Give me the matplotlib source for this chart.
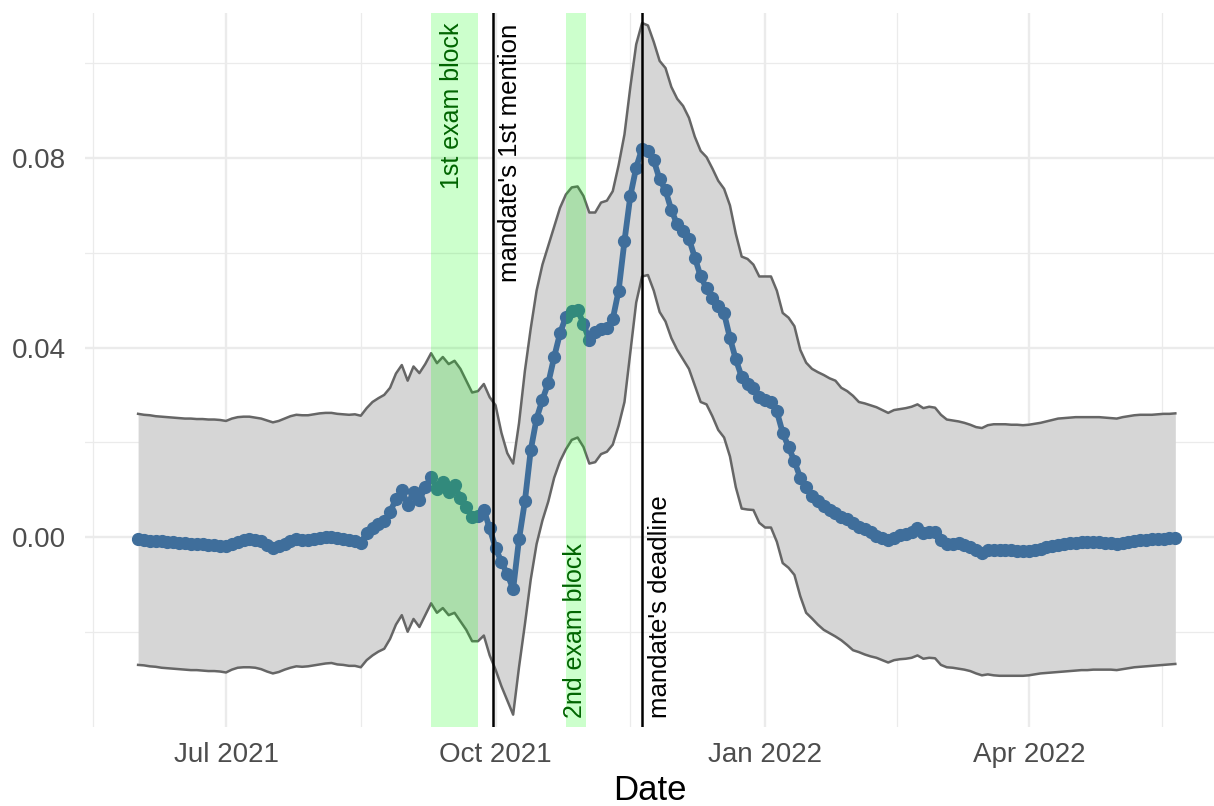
import numpy as np
import matplotlib
matplotlib.use("Agg")
import matplotlib.pyplot as plt
import matplotlib.dates as mdates

plt.rcParams['font.family'] = ['Liberation Sans', 'DejaVu Sans']

# one value every two days from 1 Jun 2021, in thousandths
start = np.datetime64('2021-06-01')
center_k = [
    -0.5, -0.6, -0.8, -0.9, -0.9, -1.0, -1.1, -1.2, -1.3, -1.4,
    -1.4, -1.5, -1.6, -1.6, -1.8, -2.0, -1.5, -1.0, -0.7, -0.5,
    -0.6, -0.9, -1.6, -2.3, -2.0, -1.4, -0.9, -0.5, -0.6, -0.6,
    -0.4, -0.2, 0.0, 0.0, -0.3, -0.5, -0.6, -0.8, -1.2, 0.8,
    2.0, 2.8, 3.4, 5.3, 8.0, 9.9, 6.8, 9.5, 7.8, 10.5,
    12.7, 10.2, 11.6, 9.5, 11.0, 8.2, 6.4, 4.2, 4.5, 5.8,
    1.8, -2.3, -5.3, -7.8, -11.0, -0.5, 7.5, 18.3, 25.0, 29.0,
    32.5, 38.0, 43.0, 46.5, 47.8, 48.0, 45.0, 41.5, 43.2, 44.0,
    44.2, 46.0, 52.0, 62.5, 72.0, 78.0, 82.0, 81.5, 79.5, 75.5,
    73.2, 69.0, 66.0, 64.5, 63.0, 59.0, 55.0, 52.5, 50.5, 48.8,
    47.2, 42.0, 37.5, 33.8, 32.3, 31.5, 29.5, 29.0, 28.5, 26.5,
    22.0, 19.0, 16.0, 12.5, 10.5, 8.6, 7.5, 6.6, 5.8, 5.0,
    4.2, 3.8, 3.0, 2.2, 1.7, 1.0, 0.3, -0.2, -0.6, -0.2,
    0.4, 0.6, 1.0, 1.9, 0.8, 1.1, 1.0, -0.6, -1.5, -1.4,
    -1.3, -1.7, -2.2, -2.8, -3.4, -2.7, -2.7, -2.7, -2.7, -2.8,
    -2.9, -3.0, -3.0, -2.8, -2.5, -2.2, -1.9, -1.6, -1.4, -1.3,
    -1.2, -1.1, -1.1, -1.1, -1.1, -1.2, -1.3, -1.5, -1.2, -1.0,
    -0.8, -0.7, -0.6, -0.5, -0.4, -0.4, -0.3, -0.2,
]
upper_k = [
    26.0, 25.8, 25.7, 25.5, 25.4, 25.3, 25.2, 25.1, 25.0, 25.0,
    24.9, 24.9, 24.8, 24.8, 24.7, 24.5, 25.0, 25.3, 25.4, 25.4,
    25.2, 25.0, 24.6, 24.2, 24.5, 25.0, 25.5, 25.8, 25.7, 25.7,
    25.9, 26.1, 26.2, 26.2, 26.0, 25.9, 25.8, 25.9, 25.6, 27.2,
    28.5, 29.3, 30.0, 31.5, 34.5, 36.3, 33.0, 36.0, 34.6, 36.5,
    38.8, 36.7, 38.0, 36.5, 37.2, 35.5, 33.0, 30.5, 30.8, 32.3,
    29.5, 27.8, 22.0, 17.7, 15.5, 24.0, 35.0, 44.0, 52.0, 57.5,
    61.5, 65.5, 69.5, 72.3, 73.8, 74.0, 72.0, 68.5, 68.5, 70.6,
    71.0, 73.0, 78.5, 85.0, 95.0, 104.0, 108.5, 108.0, 104.5, 100.5,
    99.0, 95.0, 92.5, 91.0, 88.5, 84.5, 81.5, 80.2, 77.8, 75.2,
    73.5, 70.0, 64.0, 59.2, 58.7, 57.5, 55.0, 55.0, 55.0, 52.0,
    47.3, 46.3, 44.5, 39.5, 36.8, 35.5, 34.8, 34.2, 33.5, 33.0,
    31.5, 30.8, 29.8, 28.5, 28.2, 27.8, 27.4, 26.8, 26.2, 26.8,
    27.0, 27.2, 27.5, 28.0, 27.2, 27.5, 27.3, 25.8, 24.8, 24.6,
    24.4, 24.1, 23.7, 23.2, 23.0, 23.6, 23.8, 23.8, 23.8, 23.7,
    23.7, 23.6, 23.7, 23.9, 24.1, 24.4, 24.7, 25.0, 25.1, 25.2,
    25.3, 25.3, 25.3, 25.3, 25.3, 25.2, 25.1, 25.0, 25.3, 25.5,
    25.7, 25.8, 25.8, 25.8, 25.9, 26.0, 26.0, 26.1,
]
lower_k = [
    -27.0, -27.1, -27.3, -27.4, -27.6, -27.7, -27.8, -27.9, -28.0, -28.1,
    -28.1, -28.2, -28.3, -28.3, -28.4, -28.6, -28.0, -27.6, -27.5, -27.5,
    -27.6, -27.9, -28.4, -28.8, -28.5, -28.0, -27.6, -27.3, -27.4, -27.3,
    -27.1, -26.9, -26.7, -26.6, -26.9, -27.0, -27.2, -27.2, -27.5, -26.0,
    -25.0, -24.2, -23.6, -21.5, -18.5, -16.5, -20.0, -17.3, -19.0, -16.5,
    -14.0, -16.0, -15.0, -16.5, -16.0, -17.8, -19.6, -22.0, -22.0, -20.8,
    -25.0, -28.0, -31.5, -34.5, -37.5, -27.5, -18.5, -9.0, -1.5, 3.5,
    7.5, 12.5, 16.0, 18.5, 20.5, 21.0, 19.0, 15.5, 15.8, 17.5,
    18.0, 19.5, 23.5, 28.5, 39.0, 49.5, 55.0, 55.3, 52.0, 47.5,
    45.5, 42.0, 39.5, 37.5, 35.5, 32.0, 28.5, 28.0, 25.5, 22.6,
    21.0, 17.0, 10.5, 6.0, 5.8, 5.7, 3.0, 2.0, 2.0, -1.0,
    -5.5, -6.5, -8.0, -12.5, -16.0, -17.2, -18.5, -19.6, -20.3, -21.0,
    -21.8, -22.8, -23.9, -24.3, -24.8, -25.2, -25.5, -26.0, -26.5, -26.0,
    -25.8, -25.7, -25.5, -25.0, -25.7, -25.5, -25.6, -27.0, -27.5, -27.6,
    -27.8, -28.0, -28.3, -28.8, -29.2, -29.0, -29.2, -29.3, -29.3, -29.3,
    -29.3, -29.3, -29.2, -29.0, -28.8, -28.7, -28.6, -28.5, -28.4, -28.3,
    -28.2, -28.1, -28.1, -28.0, -28.0, -28.0, -28.0, -28.1, -27.9, -27.7,
    -27.5, -27.4, -27.3, -27.2, -27.1, -27.0, -26.9, -26.8,
]

exam_starts = ['2021-09-09', '2021-10-25']
exam_ends = ['2021-09-25', '2021-11-01']
exam_labels = ['1st exam block', '2nd exam block']
mandate_dates = ['2021-09-30', '2021-11-20']
mandate_labels = ["mandate's 1st mention", "mandate's deadline"]

dates = start + np.arange(len(center_k)) * 2
center = np.array(center_k) / 1000
upper = np.array(upper_k) / 1000
lower = np.array(lower_k) / 1000

fig = plt.figure(figsize=(12.14, 8.06), dpi=100)
ax = fig.add_axes([85 / 1214, 1 - 727 / 806, 1 - 85 / 1214, (727 - 13) / 806])

ax.fill_between(dates, lower, upper, color='#D6D6D6', lw=0, zorder=2)
ax.plot(dates, upper, color='#666666', lw=1.8, zorder=3)
ax.plot(dates, lower, color='#666666', lw=1.8, zorder=3)
ax.plot(dates, center, color='#3F6E9B', lw=4.2, marker='o', ms=8.5,
        zorder=4)

for s, e in zip(exam_starts, exam_ends):
    ax.axvspan(np.datetime64(s), np.datetime64(e), color='#00FF00',
               alpha=0.2, lw=0, zorder=5)
for d in mandate_dates:
    ax.axvline(np.datetime64(d), color='black', lw=1.8, zorder=6)

# labels
day = np.timedelta64(1, 'D')
ax.text(np.datetime64(exam_starts[0]) + 7 * day, 0.1086, exam_labels[0],
        rotation=90, ha='center', va='top', color='#006400', fontsize=18,
        zorder=7)
ax.text(np.datetime64(mandate_dates[0]) + 6 * day, 0.1084, mandate_labels[0],
        rotation=90, ha='center', va='top', color='black', fontsize=18.5,
        zorder=7)
ax.text(np.datetime64(exam_starts[1]) + 3 * day, -0.0383, exam_labels[1],
        rotation=90, ha='center', va='bottom', color='#006400', fontsize=18,
        zorder=7)
ax.text(np.datetime64(mandate_dates[1]) + 6 * day, -0.0383, mandate_labels[1],
        rotation=90, ha='center', va='bottom', color='black', fontsize=18.5,
        zorder=7)

# axes range
jul = mdates.date2num(np.datetime64('2021-07-01'))
ax.set_xlim(jul + (85 - 226) / 2.93, jul + (1214 - 226) / 2.93)
ax.set_ylim((537 - 727) / 4737, (537 - 13) / 4737)

major = [np.datetime64(m) for m in
         ['2021-04-01', '2021-07-01', '2021-10-01', '2022-01-01',
          '2022-04-01', '2022-07-01']]
major_num = mdates.date2num(major)
ax.set_xticks(major_num[1:5])
ax.set_xticks((major_num[:-1] + major_num[1:]) / 2, minor=True)
ax.xaxis.set_major_formatter(mdates.DateFormatter('%b %Y'))
ax.set_yticks([0.0, 0.04, 0.08])
ax.set_yticklabels(['0.00', '0.04', '0.08'])
ax.set_yticks([-0.02, 0.02, 0.06, 0.10], minor=True)

ax.grid(which='major', color='#EBEBEB', lw=1.7)
ax.grid(which='minor', color='#EBEBEB', lw=0.9)
ax.set_axisbelow(True)
for sp in ax.spines.values():
    sp.set_visible(False)
ax.tick_params(which='both', length=0, labelsize=20, labelcolor='#4D4D4D')
ax.tick_params(axis='x', pad=11)
ax.tick_params(axis='y', pad=14)
ax.set_xlabel('Date', fontsize=25, labelpad=4)

fig.savefig('out.png', dpi=100)
